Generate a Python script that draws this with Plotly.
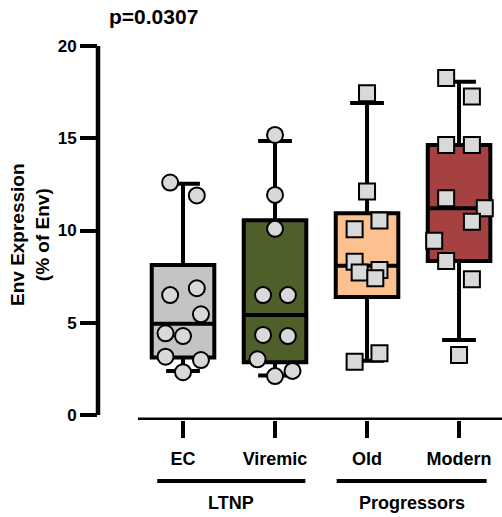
import numpy as np
import plotly.graph_objects as go

# ---- data ----
categories = ["EC", "Viremic", "Old", "Modern"]
groups = ["LTNP", "Progressors"]
p_label = "p=0.0307"

ec_values = [12.6, 11.9, 6.5, 6.87, 5.46, 4.43, 4.28, 3.16, 2.98, 2.32]
viremic_values = [15.18, 11.93, 10.09, 6.5, 6.5, 4.34, 4.28, 3.02, 2.11, 2.39]
old_values = [17.44, 12.11, 10.54, 10.07, 8.31, 7.72, 7.86, 7.41, 2.89, 3.35]
modern_values = [18.26, 17.26, 14.64, 14.64, 11.75, 11.21, 10.48, 9.44, 8.35, 7.36, 3.25]

# scatter spread of the dots (Prism-like column scatter layout)
ec_spread = [-0.14, 0.15, -0.14, 0.15, 0.195, -0.19, 0.0, -0.19, 0.195, 0.0]
viremic_spread = [0.0, 0.0, 0.0, -0.13, 0.14, -0.13, 0.14, -0.19, 0.0, 0.19]
old_spread = [0.0, 0.0, 0.135, -0.135, -0.135, -0.08, 0.135, 0.09, -0.135, 0.135]
modern_spread = [-0.14, 0.14, -0.14, 0.14, -0.14, 0.28, 0.14, -0.27, -0.14, 0.14, 0.0]

y_ticks = [0, 5, 10, 15, 20]

series = [ec_values, viremic_values, old_values, modern_values]
spreads = [ec_spread, viremic_spread, old_spread, modern_spread]
box_colors = ["#c4c4c4", "#4e5f2a", "#fdc08f", "#a54141"]
symbols = ["circle", "circle", "square", "square"]

FONT = "Liberation Sans, Arial, sans-serif"

fig = go.Figure()

for i, vals in enumerate(series):
    p10, q1, med, q3, p90 = np.percentile(np.array(vals), [10, 25, 50, 75, 90], method="weibull")
    fig.add_trace(go.Box(
        x=[i], q1=[q1], median=[med], q3=[q3], lowerfence=[p10], upperfence=[p90],
        width=0.68, whiskerwidth=0.54, fillcolor=box_colors[i],
        line=dict(color="black", width=4), boxpoints=False,
        showlegend=False, hoverinfo="skip",
    ))

for i, vals in enumerate(series):
    fig.add_trace(go.Scatter(
        x=[i + d for d in spreads[i]], y=vals, mode="markers",
        marker=dict(symbol=symbols[i], size=16, color="#d9d9d9",
                    line=dict(color="black", width=2)),
        showlegend=False, hoverinfo="skip",
    ))

# x axis line (offset Prism style) and y axis line
fig.add_shape(type="line", xref="x", yref="y", x0=-0.49, x1=3.6, y0=-0.27, y1=-0.27,
              line=dict(color="black", width=5))
fig.add_shape(type="line", xref="paper", yref="y", x0=0, x1=0, y0=0, y1=20,
              line=dict(color="black", width=4.5))

# group lines + labels
group_spans = [(-0.28, 1.33), (1.67, 3.30)]
for (a, b), name in zip(group_spans, groups):
    fig.add_shape(type="line", xref="x", yref="paper", x0=a, x1=b, y0=-0.163, y1=-0.163,
                  line=dict(color="black", width=4))
    fig.add_annotation(x=(a + b) / 2, y=-0.222, xref="x", yref="paper", text=name,
                       showarrow=False, yanchor="middle",
                       font=dict(family=FONT, size=18, color="black", weight="bold"))

# y title
fig.add_annotation(x=-0.168, y=0.495, xref="paper", yref="paper",
                   text="Env Expression<br>(% of Env)", textangle=-90, showarrow=False,
                   xanchor="center", yanchor="middle",
                   font=dict(family=FONT, size=19, color="black", weight="bold"))

fig.update_layout(
    width=502, height=517,
    margin=dict(l=98, r=0, t=46, b=97),
    paper_bgcolor="white", plot_bgcolor="white",
    title=dict(text=p_label, x=109 / 502, xanchor="left", xref="container",
               y=1 - 17 / 517, yanchor="middle",
               font=dict(family=FONT, size=21, color="black", weight="bold")),
    xaxis=dict(range=[-0.924, 3.467], tickmode="array", tickvals=list(range(len(categories))),
               ticktext=categories, showgrid=False, zeroline=False, showline=False,
               ticks="outside", ticklen=17, tickwidth=4, tickcolor="black",
               ticklabelstandoff=5,
               tickfont=dict(family=FONT, size=18, color="black", weight="bold")),
    yaxis=dict(range=[-0.27, 20], tickvals=y_ticks, showgrid=False, zeroline=False,
               showline=False, ticks="outside", ticklen=17, tickwidth=4, tickcolor="black",
               tickfont=dict(family=FONT, size=17, color="black", weight="bold")),
)

fig.write_html("out.html", config={"displayModeBar": False},
               post_script="document.body.style.margin='0';document.body.style.padding='0';")
